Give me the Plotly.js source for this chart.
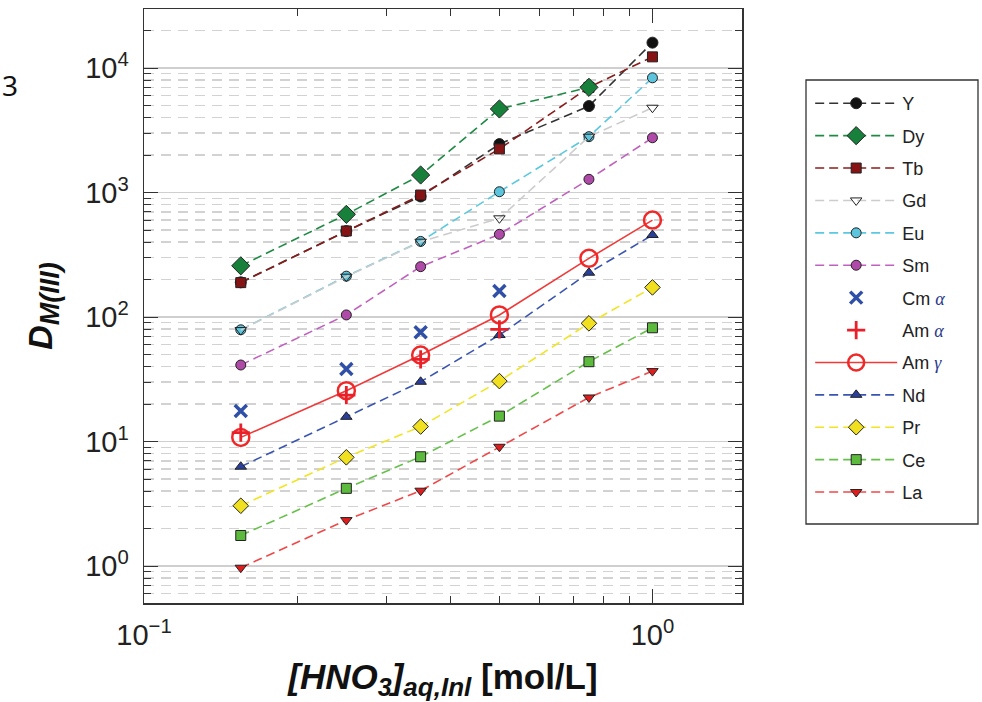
<!DOCTYPE html>
<html>
<head>
<meta charset="utf-8">
<script src="https://cdn.plot.ly/plotly-3.0.1.min.js"></script>
<style>html,body{margin:0;padding:0;background:#fff;}#chart{width:982px;height:702px;}</style>
</head>
<body>
<div id="chart"></div>
<script>
// HNO3 concentrations (mol/L)
const xConc = [0.155, 0.25, 0.35, 0.5, 0.75, 1.0];
const xConc5 = [0.155, 0.25, 0.35, 0.5, 0.75];
const xConc4 = [0.155, 0.25, 0.35, 0.5];

// Distribution ratios D_M(III)
const dY  = [190, 490, 930, 2450, 4950, 16000];
const dDy = [258, 668, 1383, 4690, 7000];
const dTb = [189, 491, 955, 2240, 7000, 12300];
const dGd = [78.6, 211, 403, 621, 2810, 4800];
const dEu = [79, 213, 405, 1015, 2810, 8350];
const dSm = [41.2, 104, 254, 462, 1277, 2755];
const dCmAlpha = [17.6, 38.2, 75.4, 162];
const dAmAlpha = [11.8, 23.6, 45.7, 79.7];
const dAmGamma = [10.8, 25.6, 49.5, 104, 296, 601];
const dNd = [6.28, 15.8, 30.2, 71.7, 227, 456];
const dPr = [3.05, 7.47, 13.2, 30.6, 89, 173];
const dCe = [1.76, 4.21, 7.55, 16.0, 43.8, 82];
const dLa = [0.97, 2.34, 4.03, 9.08, 22.6, 36.8];

const greek = (g) => ' <span style="font-family:\'Liberation Serif\',serif;color:#2a3a8c"><i>' + g + '</i></span>';
const legendNames = ['Y','Dy','Tb','Gd','Eu','Sm',
  'Cm' + greek('α'), 'Am' + greek('α'), 'Am' + greek('γ'),
  'Nd','Pr','Ce','La'];

const dashPat = '9px,5px';
function dashed(name, rank, x, y, lineColor, sym, fill, size){
  return {
    type:'scatter', mode:'lines+markers', x:x, y:y, name:name,
    legendrank: rank, legendgroup:'g'+rank,
    line:{color:lineColor, width:1.6, dash:dashPat},
    marker:{symbol:sym, color:fill, size:size, line:{color:'#222', width:1}}
  };
}

const traces = [
  dashed(legendNames[0], 1, xConc, dY, '#333333', 'circle', '#111111', 11),
  dashed(legendNames[2], 3, xConc, dTb, '#8a1c1c', 'square', '#861414', 10),
  dashed(legendNames[1], 2, xConc5, dDy, '#1e8a44', 'diamond', '#17803a', 14),
  dashed(legendNames[4], 5, xConc, dEu, '#5cc8e0', 'circle', '#5cc4dc', 10),
  dashed(legendNames[3], 4, xConc, dGd, '#cccccc', 'triangle-down-open', '#222', 10),
  dashed(legendNames[5], 6, xConc, dSm, '#c060bf', 'circle', '#b04aa8', 10),
  dashed(legendNames[12], 13, xConc, dLa, '#f04848', 'triangle-down', '#e01c1c', 10),
  dashed(legendNames[11], 12, xConc, dCe, '#66c04a', 'square', '#5cbb3c', 10),
  dashed(legendNames[10], 11, xConc, dPr, '#f2e424', 'diamond', '#f0e020', 12),
  dashed(legendNames[9], 10, xConc, dNd, '#3a55b0', 'triangle-up', '#2a3f9a', 10),
  {type:'scatter', mode:'lines+markers', x:xConc, y:dAmGamma, name:legendNames[8],
   legendrank:9, legendgroup:'g9',
   line:{color:'#f03a3a', width:1.6},
   marker:{symbol:'circle-open', color:'#f02828', size:17, line:{color:'#f02828', width:2.5}}},
  {type:'scatter', mode:'markers', x:xConc4, y:dAmAlpha, name:legendNames[7],
   legendrank:8, legendgroup:'g8',
   marker:{symbol:'cross-thin', color:'#e8202a', size:13, line:{color:'#e8202a', width:2.8}}},
  {type:'scatter', mode:'markers', x:xConc4, y:dCmAlpha, name:legendNames[6],
   legendrank:7, legendgroup:'g7',
   marker:{symbol:'x-thin', color:'#3050a8', size:12, line:{color:'#3050a8', width:3.5}}}
];

const sans = 'Liberation Sans, Arial, sans-serif';
const tickFont = {family:sans, size:29, color:'#222'};

const layout = {
  width:982, height:702,
  margin:{l:144, r:240, t:9, b:99},
  paper_bgcolor:'#fff', plot_bgcolor:'#fff',
  showlegend:true,
  legend:{
    x:1.114, y:0.8720, xanchor:'left', yanchor:'top',
    borderwidth:0, bgcolor:'rgba(0,0,0,0)',
    font:{family:sans, size:18, color:'#222'},
    tracegroupgap:6, itemwidth:82, traceorder:'grouped'
  },
  shapes:[{type:'rect', xref:'paper', yref:'paper',
    x0:(806-144)/598, x1:(978-144)/598, y0:(603-524)/594, y1:(603-80)/594,
    line:{color:'#333', width:1.3}, fillcolor:'rgba(0,0,0,0)', layer:'above'}],
  xaxis:{
    type:'log', range:[-1, Math.log10(1.5)],
    tickvals:[0.1, 1], ticktext:['10<sup>−1</sup>','10<sup>0</sup>'],
    ticks:'inside', ticklen:14, tickcolor:'#333', tickwidth:1,
    showgrid:false, zeroline:false,
    showline:true, linecolor:'#333', linewidth:1.5, mirror:'allticks',
    tickfont:tickFont, ticklabelstandoff:6,
    minor:{tickvals:[0.2,0.3,0.4,0.5,0.6,0.7,0.8,0.9], ticks:'inside', ticklen:7, tickcolor:'#333', showgrid:false},
    title:{text:'<b><i>[HNO<sub><span style="font-size:25px">3</span></sub>]<sub><span style="font-size:26px">aq,Inl</span></sub></i> [mol/L]</b>',
      font:{family:sans, size:35, color:'#111'}, standoff:17}
  },
  yaxis:{
    type:'log', range:[Math.log10(0.505), Math.log10(29800)],
    tickvals:[1,10,100,1000,10000],
    ticktext:['10<sup>0</sup>','10<sup>1</sup>','10<sup>2</sup>','10<sup>3</sup>','10<sup>4</sup>'],
    ticks:'inside', ticklen:14, tickcolor:'#333', tickwidth:1,
    showgrid:true, gridcolor:'#cfcfcf', gridwidth:1.2, zeroline:false,
    showline:true, linecolor:'#333', linewidth:1.5, mirror:'allticks',
    tickfont:tickFont, ticklabelstandoff:8,
    minor:{dtick:'D1', ticks:'inside', ticklen:7, tickcolor:'#333',
      showgrid:true, gridcolor:'#d2d2d2', gridwidth:1.4, griddash:'10px,7px'},
    title:{text:'<b><i>D<sub><span style="font-size:27px">M(III)</span></sub></i></b>',
      font:{family:sans, size:34, color:'#111'}, standoff:22}
  },
  annotations:[{
    text:'3', xref:'paper', yref:'paper', x:(1-144)/598, y:0.872, xanchor:'left', yanchor:'middle',
    borderpad:0, showarrow:false, font:{family:'Noto Sans, sans-serif', size:28, color:'#111'}
  }]
};

Plotly.newPlot('chart', traces, layout, {displayModeBar:false, staticPlot:true});
</script>
</body>
</html>
